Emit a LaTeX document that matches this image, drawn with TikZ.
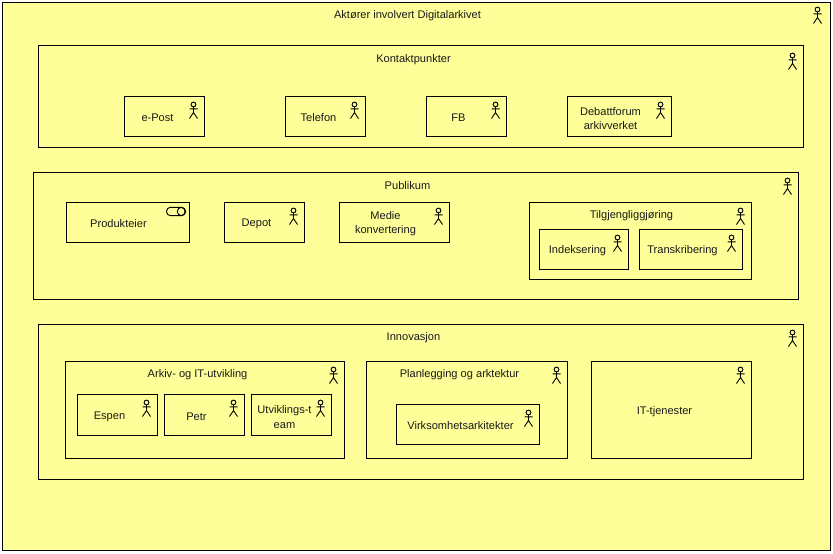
\documentclass[tikz,border=0pt]{standalone}
\usepackage{fontspec}
\setmainfont{Liberation Sans}
\definecolor{elemfill}{HTML}{FFFF99}
\tikzset{
  elem/.style 2 args={draw=black, fill=elemfill, rectangle, anchor=north west, inner sep=0pt, outer sep=0pt,
    line width=0.75pt, xshift=-0.75pt, yshift=0.75pt, minimum width=(#1+1)*0.75pt, minimum height=(#2+1)*0.75pt},
  lbl/.style={inner sep=0pt, yshift=-0.7pt, align=center, font=\fontsize{8.3}{10.8}\selectfont, text=black!90},
  actor/.pic={
    \draw[line width=0.7pt] (0,-5) circle (2.4);
    \draw[line width=0.7pt] (0,-2.6) -- (0,3) (-4,-0.7) -- (4,-0.7) (-4,9) -- (0,3) -- (4,9);
  },
  service/.pic={
    \draw[line width=0.7pt, rounded corners=3pt] (-9,-4.2) rectangle (9.5,4.2);
    \draw[line width=0.7pt] (6,0) circle (4.2);
  }
}
\begin{document}
\begin{tikzpicture}[x=0.75pt, y=-0.75pt]
\useasboundingbox (-0.5,-0.5) rectangle (832.5,553.5);
% outer group
\node [elem={827}{547}] (aktorer) at (3,3) {};
\node [lbl] (aktorerlbl) at (407,14) {Aktører involvert Digitalarkivet};
\pic at (817,14) {actor};
% Kontaktpunkter
\node [elem={764}{101}] (kontakt) at (39,46) {};
\node [lbl] (kontaktlbl) at (413,58) {Kontaktpunkter};
\pic at (792,60) {actor};
\node [elem={79}{39}] (epost) at (125,97) {};
\node [lbl] (epostlbl) at (157,116) {e-Post};
\pic at (193,109) {actor};
\node [elem={79}{39}] (telefon) at (286,97) {};
\node [lbl] (telefonlbl) at (318,116) {Telefon};
\pic at (354,109) {actor};
\node [elem={79}{39}] (fb) at (427,97) {};
\node [lbl] (fblbl) at (458,116) {FB};
\pic at (495,109) {actor};
\node [elem={103}{39}] (debatt) at (568,97) {};
\node [lbl] (debattlbl) at (610,117) {Debattforum\\arkivverket};
\pic at (660,109) {actor};
% Publikum
\node [elem={764}{126}] (publikum) at (34,173) {};
\node [lbl] (publikumlbl) at (407,184) {Publikum};
\pic at (787,185) {actor};
\node [elem={122}{39}] (produkteier) at (67,203) {};
\node [lbl] (produkteierlbl) at (118,222) {Produkteier};
\pic at (175,211) {service};
\node [elem={79}{39}] (depot) at (225,203) {};
\node [lbl] (depotlbl) at (256,222) {Depot};
\pic at (293,215) {actor};
\node [elem={109}{39}] (medie) at (340,203) {};
\node [lbl] (medielbl) at (385,222.5) {Medie\\konvertering};
\pic at (438,215) {actor};
\node [elem={221}{76}] (tilgj) at (530,203) {};
\node [lbl] (tilgjlbl) at (631,214) {Tilgjengliggjøring};
\pic at (740,215) {actor};
\node [elem={88}{39}] (indeks) at (540,230) {};
\node [lbl] (indekslbl) at (577,249) {Indeksering};
\pic at (617,242) {actor};
\node [elem={102}{39}] (transk) at (640,230) {};
\node [lbl] (transklbl) at (682,249) {Transkribering};
\pic at (731,242) {actor};
% Innovasjon
\node [elem={764}{154}] (innovasjon) at (39,325) {};
\node [lbl] (innovasjonlbl) at (413,336) {Innovasjon};
\pic at (792,337) {actor};
\node [elem={278}{96}] (arkiv) at (66,362) {};
\node [lbl] (arkivlbl) at (197,373) {Arkiv- og IT-utvikling};
\pic at (333,374) {actor};
\node [elem={79}{40}] (espen) at (78,395) {};
\node [lbl] (espenlbl) at (109,415) {Espen};
\pic at (146,407) {actor};
\node [elem={79}{40}] (petr) at (165,395) {};
\node [lbl] (petrlbl) at (196,415) {Petr};
\pic at (233,407) {actor};
\node [elem={79}{40}] (utv) at (252,395) {};
\node [lbl] (utvlbl) at (284,415.5) {Utviklings-t\\eam};
\pic at (320,407) {actor};
\node [elem={200}{96}] (plan) at (367,362) {};
\node [lbl] (planlbl) at (459,373) {Planlegging og arktektur};
\pic at (556,374) {actor};
\node [elem={142}{39}] (virks) at (397,405) {};
\node [lbl] (virkslbl) at (460,424) {Virksomhetsarkitekter};
\pic at (528,417) {actor};
\node [elem={159}{96}] (it) at (592,362) {};
\node [lbl] (itlbl) at (664,410) {IT-tjenester};
\pic at (740,374) {actor};
\end{tikzpicture}
\end{document}
